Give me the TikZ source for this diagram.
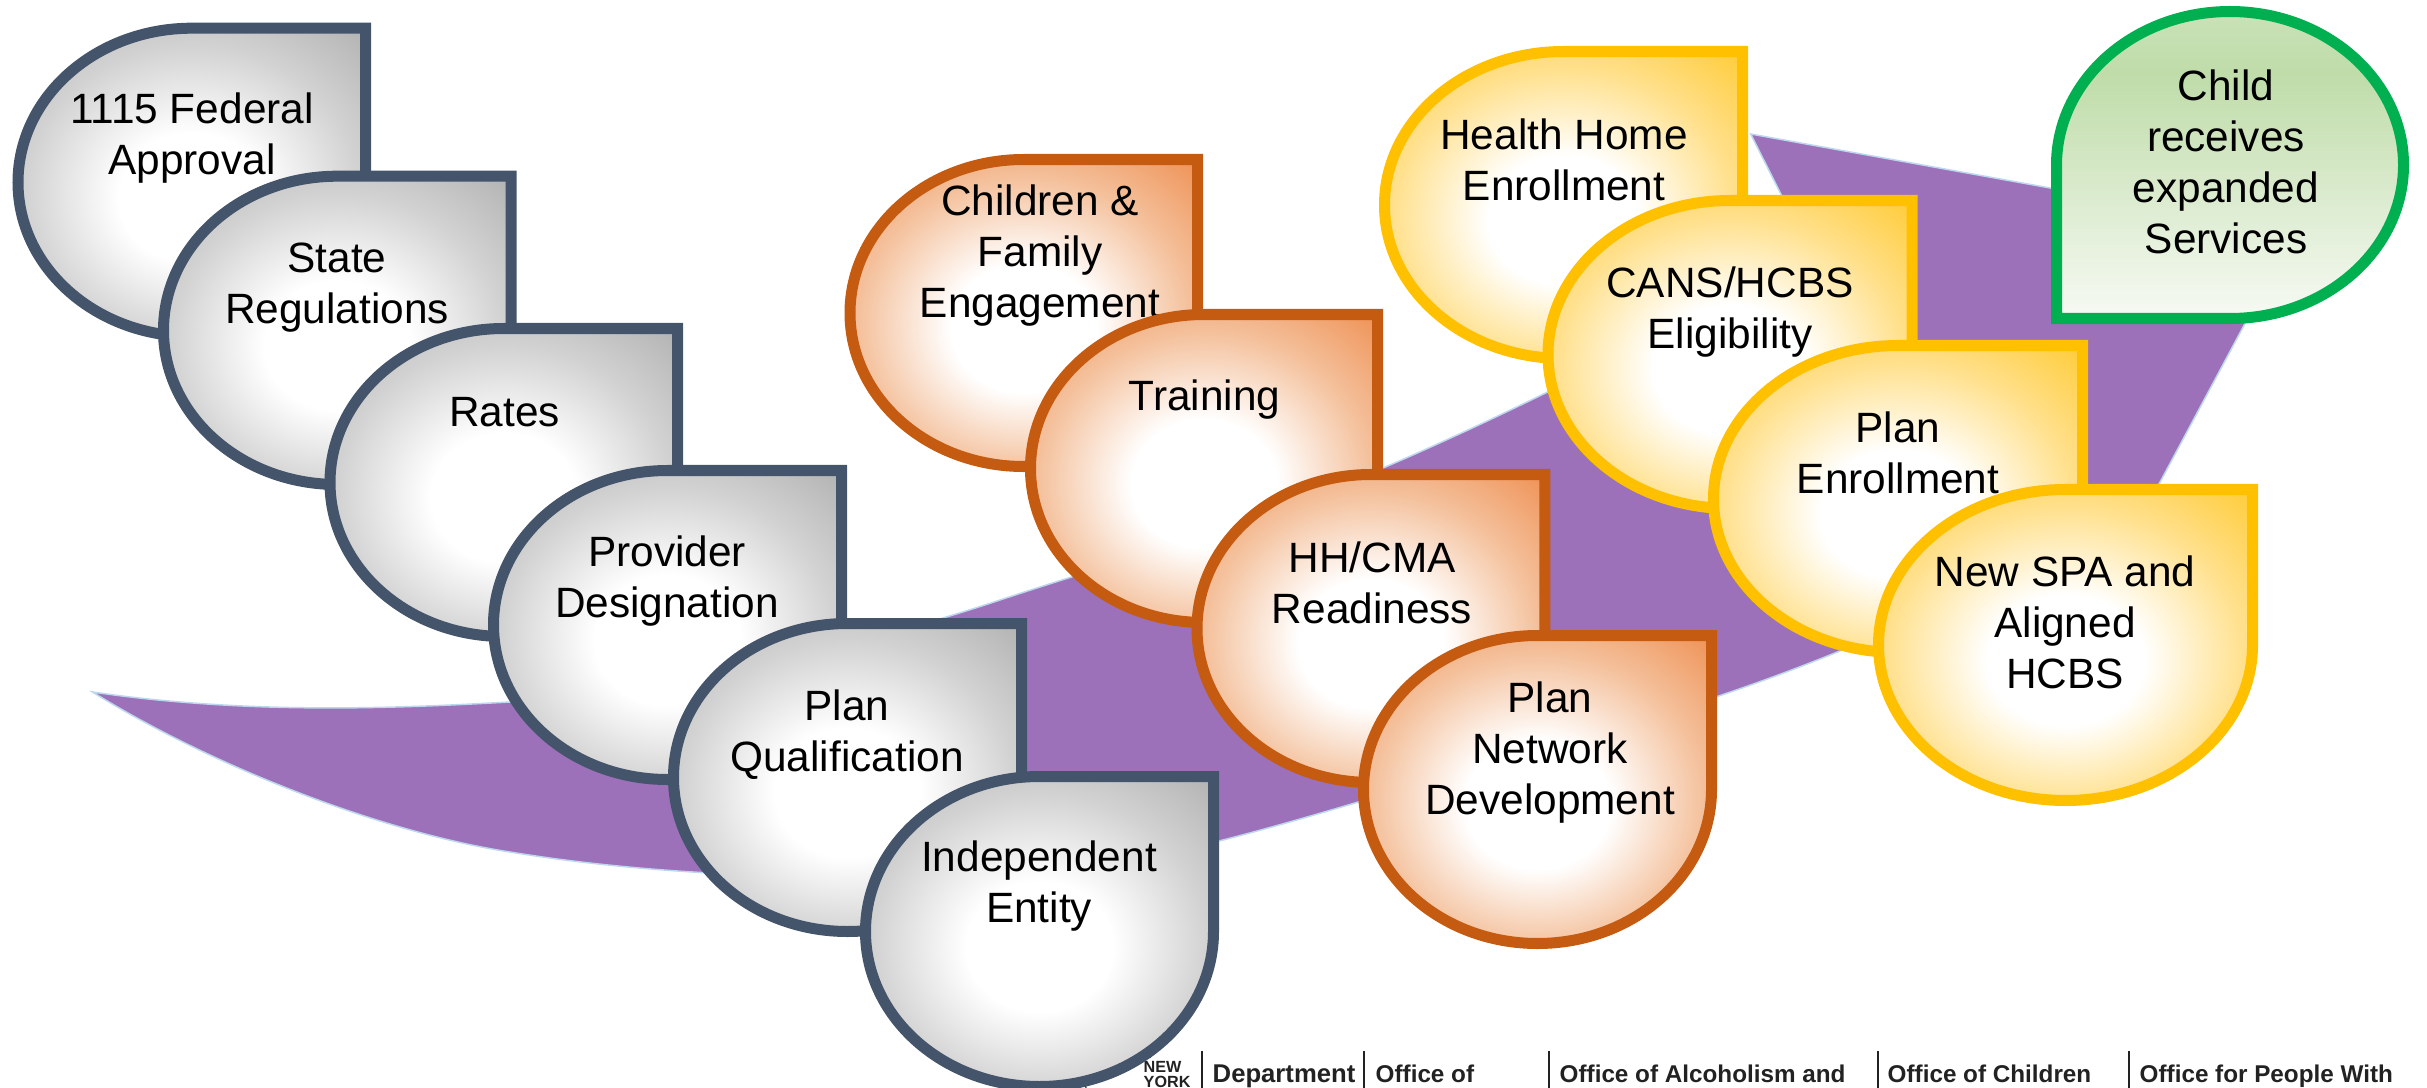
\documentclass[tikz,border=0pt]{standalone}
\usepackage{fontspec}
\setmainfont{Liberation Sans}
\definecolor{gA}{HTML}{D2D2D2}\definecolor{gB}{HTML}{ADADAD}
\definecolor{oA}{HTML}{F4C09B}\definecolor{oB}{HTML}{EE8A4A}
\definecolor{yA}{HTML}{FFE08C}\definecolor{yB}{HTML}{FFC82A}
\definecolor{grA}{HTML}{F7FAF4}\definecolor{grB}{HTML}{BFDCA9}\definecolor{grC}{HTML}{C9E2B8}
\definecolor{grayline}{HTML}{44546A}
\definecolor{orangeline}{HTML}{C55A11}
\definecolor{yellowline}{HTML}{FFC000}
\definecolor{greenline}{HTML}{00B050}
\definecolor{arrowfill}{HTML}{9C71B9}
\definecolor{arrowedge}{HTML}{BDD7EE}
\definecolor{foot}{HTML}{222222}
\pgfdeclareradialshading{graydrop}{\pgfpoint{0bp}{-3bp}}{color(0bp)=(white);color(10.5bp)=(white);color(24bp)=(gA);color(38bp)=(gB);color(60bp)=(gB)}
\pgfdeclareradialshading{orangedrop}{\pgfpoint{0bp}{-3bp}}{color(0bp)=(white);color(10.5bp)=(white);color(24bp)=(oA);color(38bp)=(oB);color(60bp)=(oB)}
\pgfdeclareradialshading{yellowdrop}{\pgfpoint{0bp}{-3bp}}{color(0bp)=(white);color(10.5bp)=(white);color(24bp)=(yA);color(38bp)=(yB);color(60bp)=(yB)}
\pgfdeclareverticalshading{greendrop}{100bp}{color(0bp)=(grA);color(25bp)=(grA);color(65bp)=(grB);color(75bp)=(grC);color(100bp)=(grC)}
\tikzset{
  dropgray/.style={shading=graydrop,draw=grayline},
  droporange/.style={shading=orangedrop,draw=orangeline},
  dropyellow/.style={shading=yellowdrop,draw=yellowline},
  dropgreen/.style={shading=greendrop,draw=greenline},
  droptext/.style={align=center,font=\fontsize{12.05}{14.5}\selectfont,inner sep=0pt,text=black},
  footnote/.style={anchor=base west,inner sep=0pt,font=\fontsize{6.9}{8}\selectfont\bfseries,text=foot},
  footrule/.style={draw=foot,line width=0.012cm}
}
% #1 left, #2 top, #3 right, #4 bottom (outer box), #5 style
\newcommand{\cornerdrop}[5]{%
  \pgfmathsetmacro\dl{#1+5.5}\pgfmathsetmacro\dt{#2+5.5}\pgfmathsetmacro\dr{#3-5.5}\pgfmathsetmacro\db{#4-5.5}%
  \pgfmathsetmacro\cx{(\dl+\dr)/2}\pgfmathsetmacro\cy{(\dt+\db)/2}%
  \pgfmathsetmacro\kx{0.5523*(\dr-\dl)/2}\pgfmathsetmacro\ky{0.5523*(\db-\dt)/2}%
  \path[#5,line width=0.11cm,line join=miter] (\cx,\dt) -- (\dr,\dt) -- (\dr,\cy)
    .. controls (\dr,\cy+\ky) and (\cx+\kx,\db) .. (\cx,\db)
    .. controls (\cx-\kx,\db) and (\dl,\cy+\ky) .. (\dl,\cy)
    .. controls (\dl,\cy-\ky) and (\cx-\kx,\dt) .. (\cx,\dt) -- cycle;}
\begin{document}
\begin{tikzpicture}[x=0.01cm,y=-0.01cm]
\useasboundingbox (0,0) rectangle (2427,1088);
\clip (0,0) rectangle (2427,1088);
% footer
\draw[footrule] (1202,1051) -- (1202,1088);
\draw[footrule] (1364,1051) -- (1364,1088);
\draw[footrule] (1549,1051) -- (1549,1088);
\draw[footrule] (1878,1051) -- (1878,1088);
\draw[footrule] (2129,1051) -- (2129,1088);
\draw[footrule] (1085,1082) -- (1086,1088);
\draw[footrule] (1097,1076) .. controls (1102,1080) and (1112,1080) .. (1118,1073);
\draw[footrule] (1150,1052) -- (1150,1058);
\node[footnote,font=\fontsize{4.6}{5}\selectfont\bfseries] (ny1) at (1143,1072) {NEW};
\node[footnote,font=\fontsize{4.6}{5}\selectfont\bfseries] (ny2) at (1143,1087) {YORK};
\node[footnote,font=\fontsize{7.3}{8}\selectfont\bfseries] (f1) at (1212,1082) {Department};
\node[footnote] (f2) at (1375,1082) {Office of};
\node[footnote] (f3) at (1559,1082) {Office of Alcoholism and};
\node[footnote] (f4) at (1887,1082) {Office of Children};
\node[footnote] (f5) at (2139,1082) {Office for People With};
% arrow
\path[fill=arrowfill,draw=arrowedge,line width=0.015cm,line join=miter]
  (92.5,692) .. controls (250,715) and (400,708) .. (510,702)
  .. controls (650,694) and (850,650) .. (1000,600)
  .. controls (1130,557) and (1260,522) .. (1383,468)
  .. controls (1530,405) and (1680,325) .. (1813,258)
  -- (1750.7,134) -- (2294,232) -- (2159,484)
  .. controls (1960,615) and (1740,700) .. (1530,750)
  .. controls (1420,783) and (1320,815) .. (1223,840)
  .. controls (1100,870) and (980,878) .. (860,877)
  .. controls (740,877) and (620,870) .. (510,852)
  .. controls (380,832) and (210,765) .. (92.5,692) -- cycle;
% gray
\cornerdrop{12.5}{22.7}{371}{342}{dropgray}
\node[droptext] (g1) at (192,138.5) {1115 Federal\\Approval};
\cornerdrop{158}{170.7}{516.5}{490}{dropgray}
\node[droptext] (g2) at (337,288) {State\\Regulations};
\cornerdrop{324.5}{323}{683}{642}{dropgray}
\node[droptext] (g3) at (504.7,412) {Rates};
\cornerdrop{488}{465}{847}{785}{dropgray}
\node[droptext] (g4) at (667,581) {Provider\\Designation};
\cornerdrop{668}{618}{1027}{937}{dropgray}
\node[droptext] (g5) at (847,735) {Plan\\Qualification};
\cornerdrop{860}{771}{1219}{1092}{dropgray}
\node[droptext] (g6) at (1039,886.5) {Independent\\Entity};
% orange
\cornerdrop{844.5}{154}{1203}{472}{droporange}
\node[droptext] (o1) at (1040,255.6) {Children \&\\Family\\Engagement};
\cornerdrop{1025}{309}{1383}{628}{droporange}
\node[droptext] (o2) at (1204.5,400) {Training};
\cornerdrop{1191.5}{469}{1550.4}{788}{droporange}
\node[droptext] (o3) at (1372,583) {HH/CMA\\Readiness};
\cornerdrop{1358}{630}{1717}{949}{droporange}
\node[droptext] (o4) at (1550,753) {Plan\\Network\\Development};
% yellow
\cornerdrop{1379}{46}{1748}{364}{dropyellow}
\node[droptext] (y1) at (1564,159.5) {Health Home\\Enrollment};
\cornerdrop{1542.5}{195}{1917.5}{514}{dropyellow}
\node[droptext] (y2) at (1730,312.5) {CANS/HCBS\\Eligibility};
\cornerdrop{1708}{340}{2088}{658}{dropyellow}
\node[droptext] (y3) at (1898,453) {Plan\\Enrollment};
\cornerdrop{1873}{484}{2258}{806}{dropyellow}
\node[droptext] (y4) at (2065,622.5) {New SPA and\\Aligned\\HCBS};
% green
\pgfmathsetmacro\gl{2051+5.5}\pgfmathsetmacro\gt{6+5.5}\pgfmathsetmacro\gr{2409-5.5}\pgfmathsetmacro\gb{324-5.5}
\pgfmathsetmacro\gcx{(\gl+\gr)/2}\pgfmathsetmacro\gcy{(\gt+\gb)/2}
\pgfmathsetmacro\gkx{0.5523*(\gr-\gl)/2}\pgfmathsetmacro\gky{0.5523*(\gb-\gt)/2}
\path[dropgreen,line width=0.11cm,line join=miter] (\gcx,\gb) -- (\gl,\gb) -- (\gl,\gcy)
  .. controls (\gl,\gcy-\gky) and (\gcx-\gkx,\gt) .. (\gcx,\gt)
  .. controls (\gcx+\gkx,\gt) and (\gr,\gcy-\gky) .. (\gr,\gcy)
  .. controls (\gr,\gcy+\gky) and (\gcx+\gkx,\gb) .. (\gcx,\gb) -- cycle;
\node[droptext] (c1) at (2226,161.5) {Child\\receives\\expanded\\Services};
\end{tikzpicture}
\end{document}
